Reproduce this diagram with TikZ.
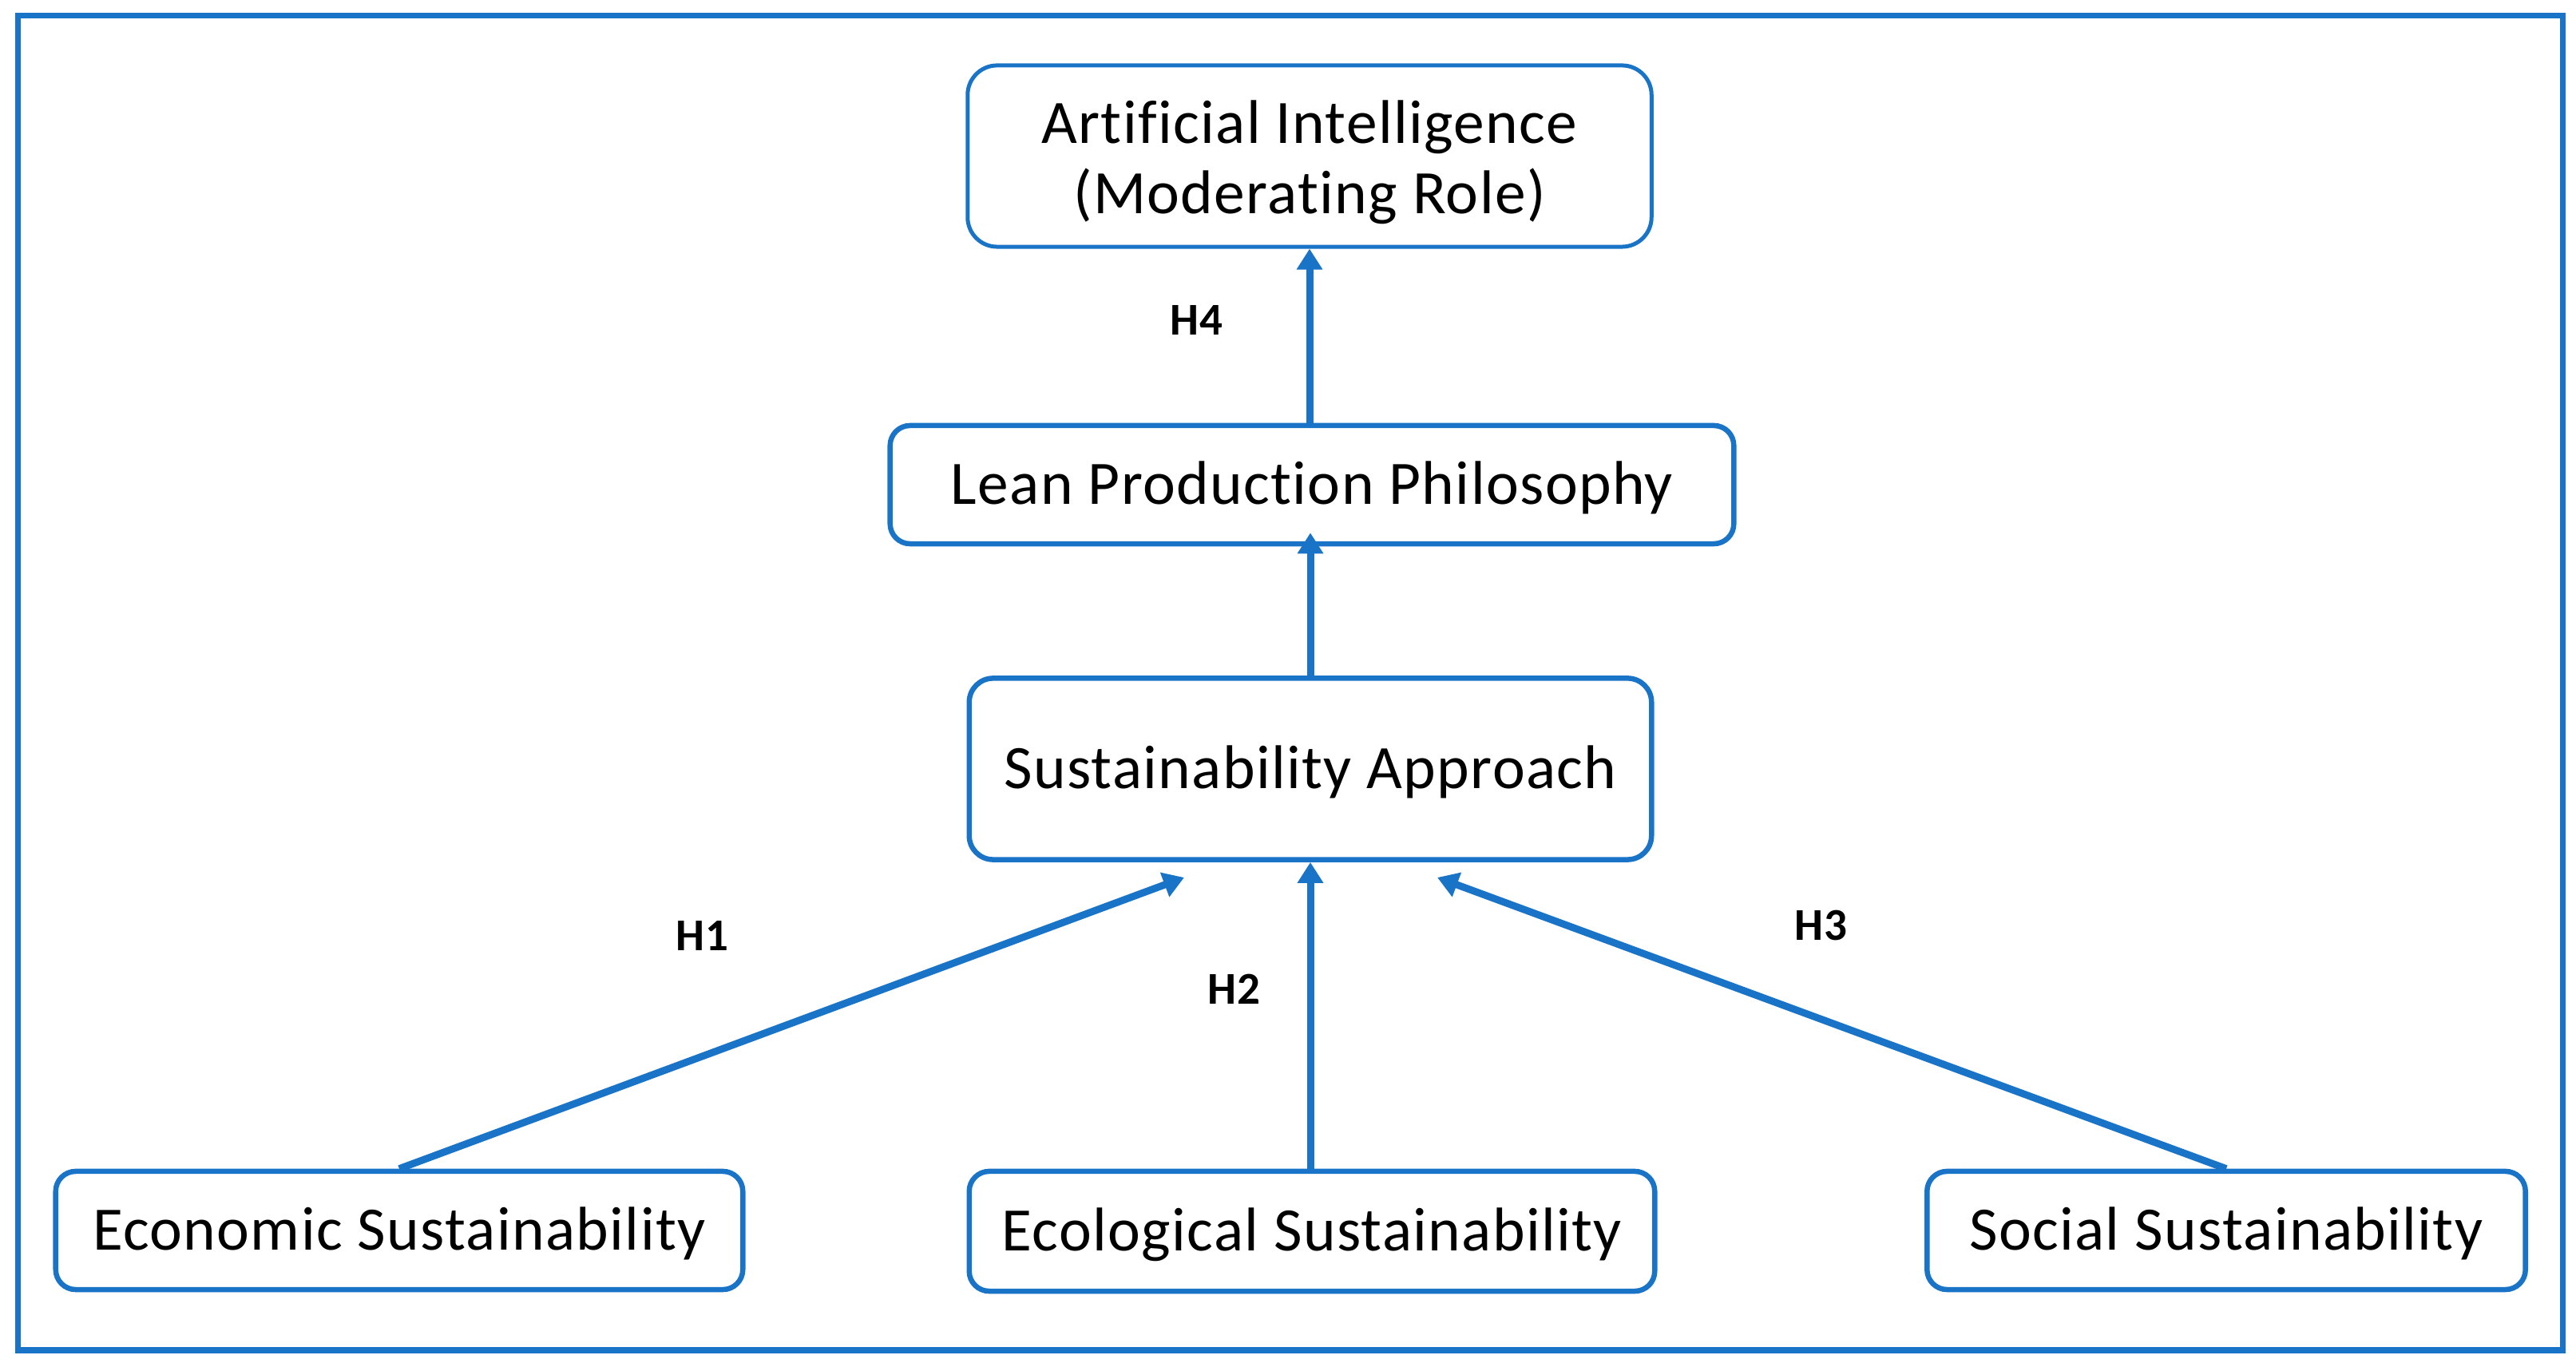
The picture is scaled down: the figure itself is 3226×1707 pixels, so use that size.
\documentclass[tikz,border=0pt]{standalone}
\usepackage{fontspec}
\setmainfont{Carlito}[Ligatures={NoCommon}, LetterSpace=1.8]
\usetikzlibrary{arrows.meta}
\definecolor{fblue}{RGB}{25,116,200}
\newcommand{\lowerby}[1]{\raisebox{-0.08cm}[\height][\depth]{#1}}
\begin{document}
\begin{tikzpicture}[x={(0.01cm,0)}, y={(0,-0.01cm)},
  box/.style={draw=fblue, line width=0.065cm, rounded corners=0.25cm, inner sep=0pt,
    align=center, text=black, font=\fontsize{22pt}{25pt}\selectfont},
  oneline/.style={text height=0.49cm, text depth=0pt},
  conn/.style={draw=fblue, line width=0.09cm, -{Triangle[length=0.26cm,width=0.31cm]}},
  hlabel/.style={font=\fontsize{16.2pt}{19pt}\selectfont\bfseries, inner sep=0pt,
    text height=0.367cm, text depth=0pt, text=black}]
\useasboundingbox (0,0) rectangle (3226,1707);
\draw[fblue, line width=0.07cm] (22.5,20) rectangle (3209,1691);

\node[box, minimum width=8.56cm, minimum height=2.27cm, rounded corners=0.37cm, line width=0.05cm]
  (ai) at (1640,195.5) {\lowerby{Artificial Intelligence}\\\lowerby{(Moderating Role)}};
\node[box, oneline, minimum width=10.56cm, minimum height=1.48cm] (lean) at (1643,607) {Lean Production Philosophy};
\node[box, oneline, minimum width=8.54cm, minimum height=2.27cm, rounded corners=0.3cm] (sa) at (1641,963) {Sustainability Approach};
\node[box, oneline, minimum width=8.60cm, minimum height=1.48cm] (econ) at (500,1541) {Economic Sustainability};
\node[box, oneline, minimum width=8.58cm, minimum height=1.50cm] (ecol) at (1643,1542) {Ecological Sustainability};
\node[box, oneline, minimum width=7.49cm, minimum height=1.48cm] (soc) at (2788,1541) {Social Sustainability};

\coordinate (t1) at (1483,1099);
\coordinate (t3) at (1800,1099);

\draw[conn] (lean.north -| ai.south) -- (ai.south);
\draw[conn] (sa.north) -- ([yshift=0.17cm]sa.north |- lean.south);
\draw[conn] (ecol.north -| sa.south) -- (sa.south);
\draw[conn] (econ.north) -- (t1);
\draw[conn] (soc.north) -- (t3);

\node[hlabel] (h4) at (1498,401) {H4};
\node[hlabel] (h1) at (879,1172) {H1};
\node[hlabel] (h2) at (1545,1239) {H2};
\node[hlabel] (h3) at (2280,1159) {H3};
\end{tikzpicture}
\end{document}
